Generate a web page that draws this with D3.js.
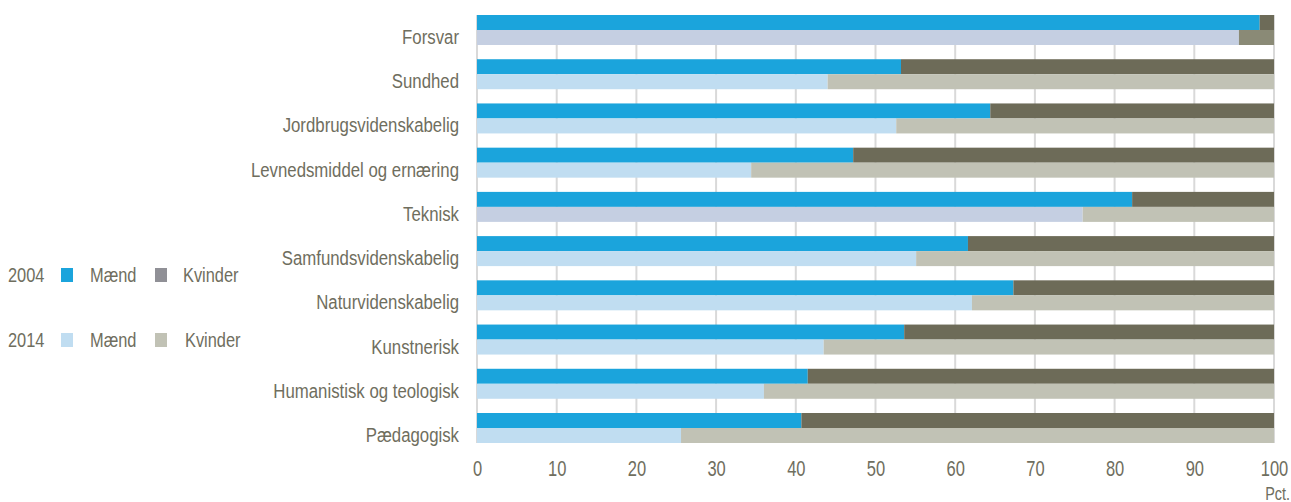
<!DOCTYPE html>
<html>
<head>
<meta charset="utf-8">
<script src="https://cdn.jsdelivr.net/npm/d3@7"></script>
<style>
  body { margin: 0; background: #fff; }
  text { font-family: "Liberation Sans", Arial, sans-serif; fill: #6f6e5e; }
</style>
</head>
<body>
<div id="chart"></div>
<script>
// Categories (top to bottom) and share of men in pct.
const categories = ["Forsvar", "Sundhed", "Jordbrugsvidenskabelig", "Levnedsmiddel og ernæring",
    "Teknisk", "Samfundsvidenskabelig", "Naturvidenskabelig", "Kunstnerisk",
    "Humanistisk og teologisk", "Pædagogisk"];
const years = ["2004", "2014"];
const maend2004 = [98.2, 53.2, 64.4, 47.2, 82.2, 61.6, 67.3, 53.6, 41.5, 40.7];
const maend2014 = [95.6, 44.0, 52.6, 34.4, 76.0, 55.1, 62.1, 43.5, 36.0, 25.6];
const tickValues = [0, 10, 20, 30, 40, 50, 60, 70, 80, 90, 100];

const width = 1291, height = 502;
const narrow = 0.8; // condensed look of the original font

const svg = d3.select("#chart").append("svg")
    .attr("width", width)
    .attr("height", height);

// Scales
const x = d3.scaleLinear().domain([0, 100]).range([477, 1274]);
const y = d3.scaleBand().domain(categories).range([15, 443]).paddingInner(0.3216).paddingOuter(0);
const yy = d3.scaleBand().domain(years).range([0, y.bandwidth()]);

// Colours
const color = {
    "2004": { m: "#1ba4dc", k: "#6d6b58" },
    "2014": { m: "#c0ddf1", k: "#c1c2b5" }
};
function fillFor(cat, year, sex) {
    // a few bars in the original use slightly different shades
    if (year === "2014" && sex === "m" && (cat === "Forsvar" || cat === "Teknisk")) return "#c5cfe2";
    if (year === "2014" && sex === "k" && cat === "Forsvar") return "#8a8a76";
    return color[year][sex];
}

// Gridlines
svg.append("g")
    .selectAll("line")
    .data(tickValues)
    .join("line")
    .attr("x1", d => x(d)).attr("x2", d => x(d))
    .attr("y1", 15).attr("y2", 443)
    .attr("stroke", "#d9d9d9")
    .attr("stroke-width", 2);

// Build rows
const rows = [];
categories.forEach((c, i) => {
    rows.push({ cat: c, year: "2004", m: maend2004[i] });
    rows.push({ cat: c, year: "2014", m: maend2014[i] });
});

const bars = svg.append("g");
bars.selectAll("rect.m")
    .data(rows)
    .join("rect")
    .attr("class", "m")
    .attr("x", x(0))
    .attr("y", d => y(d.cat) + yy(d.year))
    .attr("width", d => x(d.m) - x(0))
    .attr("height", yy.bandwidth())
    .attr("fill", d => fillFor(d.cat, d.year, "m"));

bars.selectAll("rect.k")
    .data(rows)
    .join("rect")
    .attr("class", "k")
    .attr("x", d => x(d.m))
    .attr("y", d => y(d.cat) + yy(d.year))
    .attr("width", d => x(100) - x(d.m))
    .attr("height", yy.bandwidth())
    .attr("fill", d => fillFor(d.cat, d.year, "k"));

// Category labels
svg.append("g")
    .selectAll("g")
    .data(categories)
    .join("g")
    .attr("transform", d => `translate(459,${y(d) + y.bandwidth() / 2 + 14}) scale(${narrow},1)`)
    .append("text")
    .attr("text-anchor", "end")
    .style("font-size", "21px")
    .text(d => d);

// X axis tick labels
const xAxis = d3.axisBottom(x).tickValues(tickValues).tickSize(0).tickPadding(0);
const axisG = svg.append("g").attr("transform", "translate(0,476)").call(xAxis);
axisG.select(".domain").remove();
axisG.selectAll(".tick text")
    .attr("dy", 0)
    .attr("fill", "#6f6e5e")
    .style("font-family", '"Liberation Sans", Arial, sans-serif')
    .style("font-size", "22px")
    .attr("transform", `scale(0.75,1)`);

svg.append("g")
    .attr("transform", `translate(1290,500) scale(${narrow},1)`)
    .append("text")
    .attr("text-anchor", "end")
    .style("font-size", "18px")
    .text("Pct.");

// Legend
const legendRows = [
    { year: "2004", y: 282, mSq: color["2004"].m, kSq: "#909096", kx: 183 },
    { year: "2014", y: 347, mSq: color["2014"].m, kSq: color["2014"].k, kx: 185 }
];
const lg = svg.append("g").selectAll("g").data(legendRows).join("g");
lg.append("g")
    .attr("transform", d => `translate(8,${d.y}) scale(${narrow},1)`)
    .append("text").style("font-size", "20.5px").text(d => d.year);
lg.append("rect")
    .attr("x", 61).attr("y", d => d.y - 14)
    .attr("width", 12).attr("height", 14)
    .attr("fill", d => d.mSq);
lg.append("g")
    .attr("transform", d => `translate(90,${d.y}) scale(${narrow},1)`)
    .append("text").style("font-size", "20.5px").text("Mænd");
lg.append("rect")
    .attr("x", 155).attr("y", d => d.y - 14)
    .attr("width", 12).attr("height", 14)
    .attr("fill", d => d.kSq);
lg.append("g")
    .attr("transform", d => `translate(${d.kx},${d.y}) scale(${narrow},1)`)
    .append("text").style("font-size", "20.5px").text("Kvinder");
</script>
</body>
</html>
